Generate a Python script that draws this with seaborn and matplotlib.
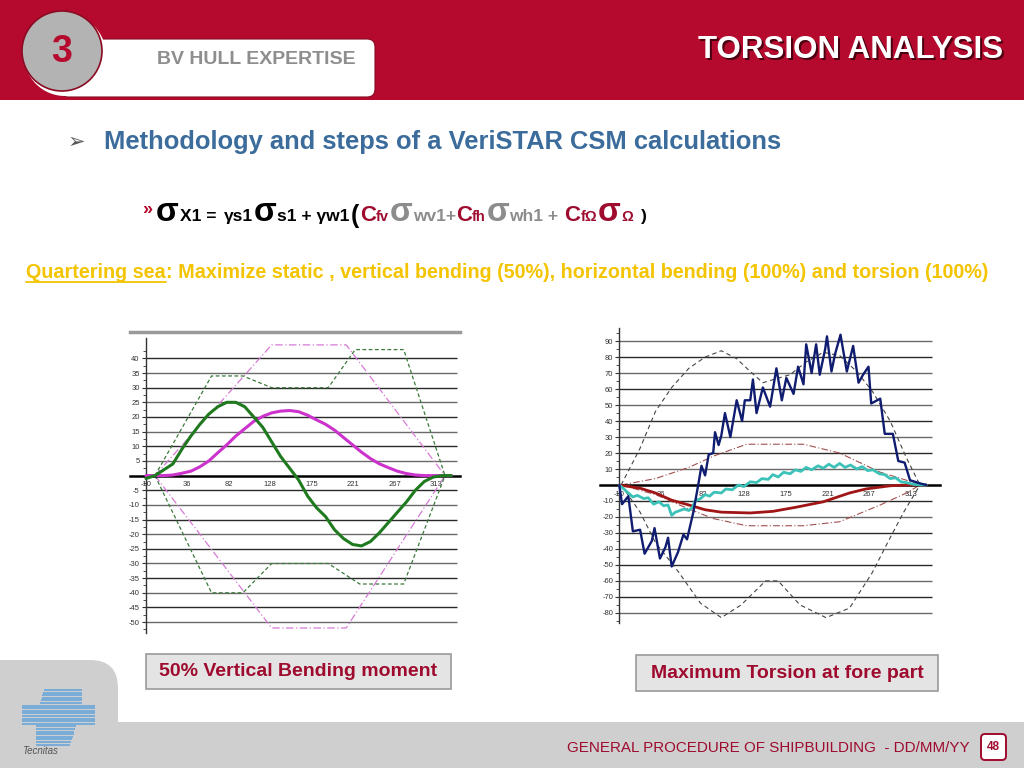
import numpy as np
import seaborn as sns
import matplotlib.pyplot as plt
from matplotlib.patches import Rectangle, Circle, FancyBboxPatch

sns.set_theme(style="white")
plt.rcParams['font.family'] = ['Liberation Sans', 'DejaVu Sans']
plt.rcParams['axes.linewidth'] = 1.0

# ── data: left chart (50% vertical bending) ─────────────────────
left_x = [-10, 0, 10, 20, 30, 40, 50, 60, 70, 80, 90, 100, 110, 120, 130, 140, 150, 160,
          170, 180, 190, 200, 210, 220, 230, 240, 250, 260, 270, 280, 290, 300, 310, 320, 330]
vbm_total = [-1, 0, 2, 4, 9, 13.5, 17.5, 21, 23.5, 25, 25, 23.5, 20, 16.5, 11.5, 6.5, 2.5, -1.5,
             -7, -11, -14, -18.5, -21.5, -23.5, -24, -22.5, -19.5, -16, -12.5, -9, -5, -2, -0.5, 0, 0]
vbm_static = [0, 0, 0, 0.2, 0.8, 1.5, 3, 5, 7.8, 10.5, 13.5, 16, 18.5, 20.2, 21.4, 22, 22.2, 21.8,
              20.6, 19, 17.5, 15.5, 13, 10.5, 8, 5.8, 4, 2.7, 1.5, 0.7, 0.2, 0, 0, 0, 0]
green_env_hi_x = [0, 63, 98, 130, 193, 223, 277, 323]
green_env_hi_y = [0, 34, 34, 30, 30, 43, 43, 0]
green_env_lo_x = [0, 63, 98, 130, 193, 228, 277, 323]
green_env_lo_y = [0, -40, -40, -30, -30, -37, -37, 0]
mag_env_x = [0, 130, 213, 323]
mag_env_hi_y = [0, 44.6, 44.6, 0]
mag_env_lo_y = [0, -52, -52, 0]
left_yticks = [-50, -45, -40, -35, -30, -25, -20, -15, -10, -5, 5, 10, 15, 20, 25, 30, 35, 40]

# ── data: right chart (maximum torsion at fore part) ────────────
tors_x = [-10, -7, 0, 5, 13, 18, 26, 29, 35, 41, 44, 48, 55, 61, 65, 72, 78, 81, 85, 89,
          94, 96, 100, 103, 107, 113, 120, 126, 129, 135, 138, 142, 149, 157, 164, 170, 175,
          183, 188, 194, 197, 203, 208, 212, 218, 220, 225, 229, 235, 242, 249, 255, 260, 266,
          269, 279, 284, 293, 299, 306, 312, 323, 330]
tors_total = [0, -12, -7, -29, -28, -43, -35, -27, -46, -39, -33, -51, -42, -31, -34, -17, 2, 12,
              6, 19, 20, 33, 25, 31, 45, 30, 53, 40, 53, 53, 66, 45, 61, 49, 73, 53, 67, 57, 74,
              63, 88, 70, 88, 69, 85, 93, 71, 82, 94, 71, 87, 64, 69, 74, 51, 54, 32, 32, 15, 14,
              3, 1, 0]
blk_env_hi_x = [-8, 13, 30, 48, 67, 85, 103, 120, 135, 149, 179, 197, 216, 234, 253, 271, 290, 308, 323]
blk_env_hi_y = [0, 23, 46, 61, 73, 80, 84, 79, 71, 64, 69, 77, 83, 81, 71, 58, 40, 17, 0]
blk_env_lo_x = [-8, 13, 30, 55, 80, 103, 125, 152, 166, 190, 219, 245, 270, 290, 305, 323]
blk_env_lo_y = [0, -17, -36, -54, -74, -83, -75, -60, -60, -75, -83, -77, -55, -33, -17, 0]
red_env_x = [-8, 30, 67, 94, 131, 194, 234, 279, 308, 323]
red_env_hi_y = [0, 4, 11, 18, 25.5, 25.5, 20, 8, 3, 0]
red_env_lo_y = [0, -6, -15, -21, -25.5, -25.5, -23, -12.5, -5, 0]
red_x = [-10, 13, 30, 48, 67, 85, 103, 135, 160, 185, 216, 245, 263, 290, 308, 330]
red_y = [0, -2, -5, -9.5, -12.5, -15.5, -17, -17.5, -16.5, -14, -10.5, -5, -2.5, -0.5, 0, 0]
cyan_x = [-10, -6, 5, 10, 17, 22, 28, 34, 39, 44, 48, 52, 57, 62, 67, 71, 74, 80, 85, 90,
          95, 103, 108, 115, 122, 128, 135, 142, 148, 155, 160, 166, 172, 179, 185, 191, 197,
          203, 210, 216, 222, 228, 234, 240, 246, 253, 259, 265, 271, 278, 284, 290, 296, 302,
          308, 315, 323, 330]
cyan_y = [0, -2, -7.5, -6.5, -8.5, -8, -12, -10.5, -13, -12.5, -19, -17, -16, -15, -16, -14, -10,
          -8.5, -6, -7, -4.5, -5, -2.5, -3, 0, -1, 2, 1.5, 4, 3.5, 6.5, 5, 8, 7, 9.5, 8.5, 11,
          9.5, 12, 10.5, 13, 11, 13.5, 11, 12.5, 10, 11.5, 9, 9.5, 7, 6.5, 4, 4.5, 2, 1.5, 0.5, 0, 0]
right_yticks = [-80, -70, -60, -50, -40, -30, -20, -10, 10, 20, 30, 40, 50, 60, 70, 80, 90]

x_ticks = [-10, 36, 82, 128, 175, 221, 267, 313]

CRIMSON = '#B50A2D'
DARKRED = '#9E0B2E'
GRAY = '#8C8C8C'
GOLD = '#F4C400'
W, H = 1024, 768

fig = plt.figure(figsize=(W / 100, H / 100), dpi=100)
bg = fig.add_axes([0, 0, 1, 1])
bg.set_xlim(0, W)
bg.set_ylim(H, 0)
bg.axis('off')
renderer = fig.canvas.get_renderer()

# ── header ─────────────────────────────────────────────────────
bg.add_patch(Rectangle((0, 0), W, 100, fc=CRIMSON, ec='none'))
bg.add_patch(FancyBboxPatch((60, 39), 315, 58, boxstyle='round,pad=0,rounding_size=8',
                            fc='white', ec='#8a0a22', lw=0.8))
bg.add_patch(Circle((65, 55), 41, fc='white', ec='none'))
bg.add_patch(Circle((62, 51), 40, fc='#B3B3B3', ec='#8a0a22', lw=1.2))
bg.text(62, 52, '3', ha='center', va='center', fontsize=27, fontweight='bold', color=CRIMSON)
bg.text(256, 60, 'BV HULL EXPERTISE', ha='center', va='center', fontsize=14,
        fontweight='bold', color='#8E8E8E')
bg.text(1005, 52, 'TORSION ANALYSIS', ha='right', va='center', fontsize=22.5,
        fontweight='bold', color='#4a0010')
bg.text(1003, 50, 'TORSION ANALYSIS', ha='right', va='center', fontsize=22.5,
        fontweight='bold', color='white')

# ── bullet + formula ───────────────────────────────────────────
bg.text(68, 142, '\u27a2', ha='left', va='center', fontsize=15, color='#555555',
        family=['DejaVu Sans'])
bg.text(104, 142, 'Methodology and steps of a VeriSTAR CSM calculations', ha='left',
        va='center', fontsize=18.4, fontweight='bold', color='#3B6C9C')

# (text, colour, size, gap before, baseline)
pieces = [
    ('\u00bb', CRIMSON, 13, 0, 214),
    ('\u03c3', 'black', 24, 4, 221),
    ('X1 =', 'black', 12.5, 1, 221),
    ('\u03b3s1', 'black', 12.5, 8, 221),
    ('\u03c3', 'black', 24, 0, 221),
    ('s1 + \u03b3w1', 'black', 12.5, 1, 221),
    ('(', 'black', 18, 1, 223),
    ('C', DARKRED, 16, 1, 221),
    ('fv', DARKRED, 10.5, 0, 221),
    ('\u03c3', GRAY, 24, 1, 221),
    ('wv1+', GRAY, 12.5, 0, 221),
    ('C', DARKRED, 16, 0, 221),
    ('fh', DARKRED, 10.5, 0, 221),
    ('\u03c3', GRAY, 24, 1, 221),
    ('wh1 +', GRAY, 12.5, 0, 221),
    ('C', DARKRED, 16, 6, 221),
    ('f\u03a9', DARKRED, 10.5, 0, 221),
    ('\u03c3', DARKRED, 24, 1, 221),
    ('\u03a9', DARKRED, 10.5, 1, 221),
    (')', 'black', 12.5, 7, 221),
]
cur = 142
for txt, col, fs, gap, base in pieces:
    cur += gap
    t = bg.text(cur, base, txt, ha='left', va='baseline', fontsize=fs, fontweight='bold',
                color=col)
    cur = t.get_window_extent(renderer=renderer).x1

# ── yellow line with underline ─────────────────────────────────
first = bg.text(26, 272, 'Quartering sea', ha='left', va='center', fontsize=14.2,
                fontweight='bold', color=GOLD)
x_end = first.get_window_extent(renderer=renderer).x1
bg.plot([26, x_end], [282, 282], color=GOLD, lw=1.3)
bg.text(x_end, 272, ': Maximize static , vertical bending (50%), horizontal bending (100%) '
        'and torsion (100%)', ha='left', va='center', fontsize=14.2, fontweight='bold', color=GOLD)

# ── captions ──────────────────────────────────────────────────
bg.add_patch(Rectangle((146, 654), 305, 35, fc='#E4E4E4', ec='#9A9A9A', lw=1.2))
bg.text(298, 671, '50% Vertical Bending moment', ha='center', va='center', fontsize=14,
        fontweight='bold', color=DARKRED)
bg.add_patch(Rectangle((636, 655), 302, 36, fc='#E4E4E4', ec='#9A9A9A', lw=1.2))
bg.text(787, 673, 'Maximum Torsion at fore part', ha='center', va='center', fontsize=14,
        fontweight='bold', color=DARKRED)

# ── footer ─────────────────────────────────────────────────────
FOOT = '#CFCFCF'
bg.add_patch(Rectangle((0, 722), W, 46, fc=FOOT, ec='none'))
bg.add_patch(FancyBboxPatch((-30, 660), 148, 140, boxstyle='round,pad=0,rounding_size=28',
                            fc=FOOT, ec='none'))
for yy in np.arange(690, 746, 2.6):
    if 704 <= yy <= 726:
        x0, x1 = 22, 95
    elif yy < 704:
        x0, x1 = 44 - (yy - 690) * 0.3, 82
    else:
        x0, x1 = 36, 76 - (yy - 726) * 0.3
    bg.plot([x0, x1], [yy, yy], color='#5FA3DA', lw=1.1, solid_capstyle='butt')
bg.text(22, 751, 'Tecnitas', ha='left', va='center', fontsize=7, style='italic', color='#555555')
bg.text(970, 748, 'GENERAL PROCEDURE OF SHIPBUILDING  - DD/MM/YY', ha='right', va='center',
        fontsize=10.9, color=DARKRED)
bg.add_patch(FancyBboxPatch((981, 734), 25, 26, boxstyle='round,pad=0,rounding_size=4',
                            fc='white', ec=DARKRED, lw=1.4))
bg.text(993.5, 747, '48', ha='center', va='center', fontsize=8.5, fontweight='bold', color=DARKRED)


def px_axes(x0, y0, x1, y1):
    return fig.add_axes([x0 / W, 1 - y1 / H, (x1 - x0) / W, (y1 - y0) / H])


def style_chart(ax, yticks, ybounds, minor, grid_end):
    ax.set_facecolor('none')
    for i, yv in enumerate(yticks):
        ax.hlines(yv, -10, grid_end, color='#2a2a2a' if i % 2 else '#6a6a6a', lw=1.0, zorder=1)
    ax.spines['left'].set_position(('data', -10))
    ax.spines['left'].set_bounds(*ybounds)
    ax.spines['left'].set_color('#333333')
    ax.spines['bottom'].set_position(('data', 0))
    ax.spines['bottom'].set_color('black')
    ax.spines['bottom'].set_linewidth(1.8)
    ax.spines['right'].set_visible(False)
    ax.set_yticks(yticks)
    ax.set_yticklabels([str(v) for v in yticks])
    ax.set_yticks(minor, minor=True)
    ax.set_xticks(x_ticks)
    ax.set_xticklabels([str(v) for v in x_ticks])
    ax.tick_params(axis='y', which='major', length=3, width=0.8, pad=1.5, labelsize=5.5,
                   direction='out', left=True, colors='#333333')
    ax.tick_params(axis='y', which='minor', length=2, width=0.6, left=True, colors='#333333')
    ax.tick_params(axis='x', length=0, pad=4, labelsize=5.5, colors='#333333')
    ax.set_xlabel('')
    ax.set_ylabel('')


# ── left chart ────────────────────────────────────────────────
ax1 = px_axes(130, 332, 460, 635)
ax1.set_xlim(-27.8, 339.7)
ax1.set_ylim(-54.4, 49.0)
style_chart(ax1, left_yticks, (-53.7, 47), np.arange(-52.5, 47, 5), 336)
ax1.spines['top'].set_visible(True)
ax1.spines['top'].set_color('#9a9a9a')
ax1.spines['top'].set_linewidth(2.5)

sns.lineplot(x=mag_env_x, y=mag_env_hi_y, ax=ax1, color='#D67AD6', lw=0.9,
             linestyle=(0, (6, 2, 1, 2)), zorder=2)
sns.lineplot(x=mag_env_x, y=mag_env_lo_y, ax=ax1, color='#D67AD6', lw=0.9,
             linestyle=(0, (6, 2, 1, 2)), zorder=2)
sns.lineplot(x=green_env_hi_x, y=green_env_hi_y, ax=ax1, color='#3C7A3C', lw=0.9,
             linestyle=(0, (3, 2)), zorder=2)
sns.lineplot(x=green_env_lo_x, y=green_env_lo_y, ax=ax1, color='#3C7A3C', lw=0.9,
             linestyle=(0, (3, 2)), zorder=2)
sns.lineplot(x=left_x, y=vbm_static, ax=ax1, color='#CC33CC', lw=2.2, zorder=3)
sns.lineplot(x=left_x, y=vbm_total, ax=ax1, color='#1F7A1F', lw=2.2, zorder=4)

# ── right chart ───────────────────────────────────────────────
ax2 = px_axes(600, 325, 940, 625)
ax2.set_xlim(-31.4, 345.2)
ax2.set_ylim(-87.6, 100.1)
style_chart(ax2, right_yticks, (-86.4, 98.2), np.arange(-85, 98, 10), 336)
ax2.spines['top'].set_visible(False)

sns.lineplot(x=blk_env_hi_x, y=blk_env_hi_y, ax=ax2, color='#444444', lw=0.8,
             linestyle=(0, (4, 3)), sort=False, zorder=2)
sns.lineplot(x=blk_env_lo_x, y=blk_env_lo_y, ax=ax2, color='#444444', lw=0.8,
             linestyle=(0, (4, 3)), sort=False, zorder=2)
sns.lineplot(x=red_env_x, y=red_env_hi_y, ax=ax2, color='#A05050', lw=0.8,
             linestyle=(0, (6, 2, 1, 2)), zorder=2)
sns.lineplot(x=red_env_x, y=red_env_lo_y, ax=ax2, color='#A05050', lw=0.8,
             linestyle=(0, (6, 2, 1, 2)), zorder=2)
sns.lineplot(x=red_x, y=red_y, ax=ax2, color='#A01515', lw=2.0, zorder=3)
sns.lineplot(x=cyan_x, y=cyan_y, ax=ax2, color='#3CC2B8', lw=2.0, sort=False, zorder=3)
sns.lineplot(x=tors_x, y=tors_total, ax=ax2, color='#0F1C70', lw=1.7, sort=False, zorder=4)

fig.savefig('out.png', dpi=100)
